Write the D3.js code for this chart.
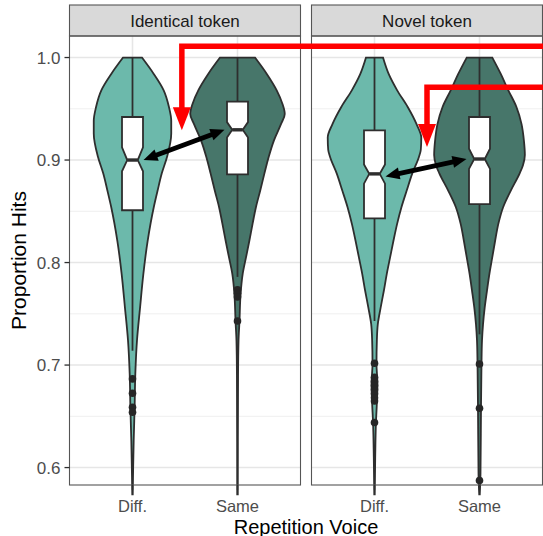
<!DOCTYPE html>
<html>
<head>
<meta charset="utf-8">
<script src="https://cdn.jsdelivr.net/npm/d3@7"></script>
<style>
body { margin: 0; background: #fff; }
text { font-family: "Liberation Sans", Arial, sans-serif; }
</style>
</head>
<body>
<script>
var facets = ["Identical token", "Novel token"],
	voices = ["Diff.", "Same"],
	yTicks = [0.6, 0.7, 0.8, 0.9, 1.0],
	yMinor = [0.65, 0.75, 0.85, 0.95];

// violin outlines: [proportion, density]
var violinIdentDiff = [[1.000, 2.0], [0.984, 4.5], [0.968, 6.6], [0.952, 7.7], [0.938, 8.2], [0.926, 8.2],
	[0.903, 7.3], [0.887, 6.2], [0.870, 5.3], [0.854, 4.5], [0.821, 3.2], [0.789, 2.3], [0.756, 1.6],
	[0.724, 0.95], [0.692, 0.6], [0.659, 0.45], [0.626, 0.25], [0.600, 0.14], [0.574, 0.05]];
var violinIdentSame = [[1.000, 3.7], [0.984, 6.2], [0.968, 8.3], [0.955, 9.5], [0.945, 10.0], [0.935, 9.2],
	[0.919, 7.7], [0.903, 6.6], [0.887, 5.7], [0.870, 4.8], [0.854, 3.9], [0.838, 3.2], [0.821, 2.5],
	[0.805, 1.8], [0.789, 1.1], [0.769, 0.65], [0.743, 0.42], [0.724, 0.22], [0.690, 0.12], [0.574, 0.06]];
var violinNovelDiff = [[1.000, 1.8], [0.984, 3.0], [0.968, 4.8], [0.952, 7.0], [0.935, 8.9], [0.922, 9.9],
	[0.910, 9.8], [0.903, 9.4], [0.887, 8.0], [0.870, 6.8], [0.854, 5.7], [0.838, 4.8], [0.821, 4.0],
	[0.805, 3.3], [0.789, 2.6], [0.773, 2.0], [0.756, 1.3], [0.740, 0.7], [0.724, 0.5], [0.701, 0.42],
	[0.682, 0.62], [0.665, 0.52], [0.643, 0.3], [0.610, 0.15], [0.574, 0.05]];
var violinNovelSame = [[1.000, 2.7], [0.984, 4.5], [0.968, 6.1], [0.952, 7.8], [0.935, 8.9], [0.919, 9.4],
	[0.905, 9.6], [0.895, 9.2], [0.887, 8.5], [0.870, 6.6], [0.854, 5.0], [0.838, 4.0], [0.821, 3.3],
	[0.805, 2.7], [0.789, 2.1], [0.773, 1.6], [0.756, 1.1], [0.740, 0.75], [0.724, 0.53], [0.701, 0.42],
	[0.659, 0.32], [0.594, 0.21], [0.574, 0.06]];

// box stats: [lower whisker, Q1, notch low, median, notch high, Q3, upper whisker]
var boxIdentDiff = [0.714, 0.851, 0.889, 0.900, 0.9125, 0.942, 1.0],
	boxIdentSame = [0.786, 0.886, 0.922, 0.9295, 0.937, 0.957, 1.0],
	boxNovelDiff = [0.743, 0.843, 0.877, 0.8865, 0.8956, 0.929, 1.0],
	boxNovelSame = [0.730, 0.857, 0.8914, 0.901, 0.911, 0.942, 1.0];

var outIdentDiff = [0.6865, 0.6725, 0.6588, 0.654],
	outIdentSame = [0.7735, 0.770, 0.7665, 0.743],
	outNovelDiff = [0.7018, 0.688, 0.684, 0.680, 0.676, 0.672, 0.668, 0.665, 0.644],
	outNovelSame = [0.701, 0.6578, 0.5873];

// red annotation arrows: facet, x (in category units), y of the bar, y of the tip
var redArrows = [[0, 1.47, 1.011, 0.929], [1, 1.50, 0.971, 0.9126]];

var groups = [
	{ facet: 0, voice: "Diff.", violin: violinIdentDiff, box: boxIdentDiff, out: outIdentDiff },
	{ facet: 0, voice: "Same",  violin: violinIdentSame, box: boxIdentSame, out: outIdentSame },
	{ facet: 1, voice: "Diff.", violin: violinNovelDiff, box: boxNovelDiff, out: outNovelDiff },
	{ facet: 1, voice: "Same",  violin: violinNovelSame, box: boxNovelSame, out: outNovelSame }
];

var fills = { "Diff.": "#6cb9ab", "Same": "#47766a" };

// layout
var W = 543, H = 536,
	panelTop = 36, panelBot = 485,
	stripTop = 5,
	panelX = [[69.5, 300.5], [311.5, 542.5]];

var svg = d3.select("body").append("svg")
	.attr("width", W)
	.attr("height", H);

var y = d3.scaleLinear().domain([0.583, 1.021]).range([panelBot, panelTop]);

var xs = panelX.map(function(r){
	return d3.scalePoint().domain(voices).range(r).padding(0.6);
});
var xc = panelX.map(function(r){
	return d3.scaleLinear().domain([0.4, 2.6]).range(r);
});
var step = xs[0].step();

var maxDens = d3.max(groups, function(g){ return d3.max(g.violin, function(d){ return d[1]; }); });
var w = d3.scaleLinear().domain([0, maxDens]).range([0, 0.45 * step]);

var dark = "#2e2e2e";

// panels, grid, strips
facets.forEach(function(f, i){
	var x0 = panelX[i][0], x1 = panelX[i][1];
	var p = svg.append("g");
	p.append("rect").attr("x", x0).attr("y", panelTop).attr("width", x1 - x0).attr("height", panelBot - panelTop).attr("fill", "#fff");
	p.selectAll(".minor").data(yMinor).enter().append("line")
		.attr("x1", x0).attr("x2", x1)
		.attr("y1", function(d){ return y(d); }).attr("y2", function(d){ return y(d); })
		.attr("stroke", "#ebebeb").attr("stroke-width", 0.8);
	p.selectAll(".major").data(yTicks).enter().append("line")
		.attr("x1", x0).attr("x2", x1)
		.attr("y1", function(d){ return y(d); }).attr("y2", function(d){ return y(d); })
		.attr("stroke", "#e6e6e6").attr("stroke-width", 1.6);
	p.selectAll(".vmajor").data(voices).enter().append("line")
		.attr("x1", function(d){ return xs[i](d); }).attr("x2", function(d){ return xs[i](d); })
		.attr("y1", panelTop).attr("y2", panelBot)
		.attr("stroke", "#e6e6e6").attr("stroke-width", 1.6);

	svg.append("rect").attr("x", x0).attr("y", stripTop).attr("width", x1 - x0).attr("height", panelTop - stripTop)
		.attr("fill", "#d9d9d9").attr("stroke", "#555").attr("stroke-width", 1.1);
	svg.append("text").attr("x", (x0 + x1) / 2).attr("y", (stripTop + panelTop) / 2 + 6)
		.attr("text-anchor", "middle").attr("font-size", 17).attr("fill", "#1a1a1a").text(f);
});

// violins
var area = d3.area()
	.curve(d3.curveMonotoneY)
	.y(function(d){ return y(d[0]); });

groups.forEach(function(g){
	var cx = xs[g.facet](g.voice);
	area.x0(function(d){ return cx - w(d[1]); }).x1(function(d){ return cx + w(d[1]); });
	svg.append("path").datum(g.violin)
		.attr("d", area)
		.attr("fill", fills[g.voice])
		.attr("stroke", dark).attr("stroke-width", 1.8);
});

// notched boxplots
var boxHalf = 0.1 * step, notchHalf = 0.5 * boxHalf;
groups.forEach(function(g){
	var cx = xs[g.facet](g.voice), b = g.box;
	svg.append("line").attr("x1", cx).attr("x2", cx).attr("y1", y(b[6])).attr("y2", y(b[5]))
		.attr("stroke", dark).attr("stroke-width", 1.8);
	svg.append("line").attr("x1", cx).attr("x2", cx).attr("y1", y(b[1])).attr("y2", y(b[0]))
		.attr("stroke", dark).attr("stroke-width", 1.8);
	var pts = [
		[cx - boxHalf, y(b[5])], [cx - boxHalf, y(b[4])], [cx - boxHalf + notchHalf, y(b[3])],
		[cx - boxHalf, y(b[2])], [cx - boxHalf, y(b[1])], [cx + boxHalf, y(b[1])],
		[cx + boxHalf, y(b[2])], [cx + boxHalf - notchHalf, y(b[3])], [cx + boxHalf, y(b[4])],
		[cx + boxHalf, y(b[5])]
	];
	svg.append("path").attr("d", "M" + pts.join("L") + "Z")
		.attr("fill", "#fff").attr("stroke", dark).attr("stroke-width", 1.8);
	svg.append("line").attr("x1", cx - boxHalf + notchHalf).attr("x2", cx + boxHalf - notchHalf)
		.attr("y1", y(b[3])).attr("y2", y(b[3]))
		.attr("stroke", dark).attr("stroke-width", 3.4);
	svg.selectAll(null).data(g.out).enter().append("circle")
		.attr("cx", cx).attr("cy", function(d){ return y(d); })
		.attr("r", 3.8).attr("fill", "#262626");
});

// panel borders
panelX.forEach(function(r){
	svg.append("rect").attr("x", r[0]).attr("y", panelTop).attr("width", r[1] - r[0]).attr("height", panelBot - panelTop)
		.attr("fill", "none").attr("stroke", "#555").attr("stroke-width", 1.1);
});

// y axis (left panel only)
var ya = svg.append("g");
ya.selectAll("line").data(yTicks).enter().append("line")
	.attr("x1", panelX[0][0] - 5).attr("x2", panelX[0][0])
	.attr("y1", function(d){ return y(d); }).attr("y2", function(d){ return y(d); })
	.attr("stroke", dark).attr("stroke-width", 1.3);
ya.selectAll("text").data(yTicks).enter().append("text")
	.attr("x", panelX[0][0] - 9).attr("y", function(d){ return y(d) + 6; })
	.attr("text-anchor", "end").attr("font-size", 17).attr("fill", "#4d4d4d")
	.text(function(d){ return d3.format(".1f")(d); });

// x axes
xs.forEach(function(sc){
	var xa = svg.append("g");
	xa.selectAll("line").data(voices).enter().append("line")
		.attr("x1", function(d){ return sc(d); }).attr("x2", function(d){ return sc(d); })
		.attr("y1", panelBot).attr("y2", panelBot + 5)
		.attr("stroke", dark).attr("stroke-width", 1.3);
	xa.selectAll("text").data(voices).enter().append("text")
		.attr("x", function(d){ return sc(d); }).attr("y", panelBot + 26.5)
		.attr("text-anchor", "middle").attr("font-size", 16.5).attr("fill", "#4d4d4d")
		.text(function(d){ return d; });
});

svg.append("text").attr("x", (panelX[0][0] + panelX[1][1]) / 2).attr("y", 533.5)
	.attr("text-anchor", "middle").attr("font-size", 20).attr("fill", "#000").text("Repetition Voice");
svg.append("text").attr("transform", "translate(26," + ((panelTop + panelBot) / 2) + ") rotate(-90)")
	.attr("text-anchor", "middle").attr("font-size", 21).attr("fill", "#000").text("Proportion Hits");

// black double arrows between medians
function headPath(tx, ty, ang, len, half){
	var bx = tx - len * Math.cos(ang), by = ty - len * Math.sin(ang),
		nx = -Math.sin(ang) * half, ny = Math.cos(ang) * half;
	return "M" + tx + "," + ty + "L" + (bx + nx) + "," + (by + ny) + "L" + (bx - nx) + "," + (by - ny) + "Z";
}
[0, 1].forEach(function(f){
	var a = groups[f * 2], b = groups[f * 2 + 1];
	var x1 = xs[f]("Diff.") + 11, y1 = y(a.box[3]) + (f ? 2.5 : 0),
		x2 = xs[f]("Same") - 13, y2 = y(b.box[3]);
	var ang = Math.atan2(y2 - y1, x2 - x1), len = 14;
	svg.append("line")
		.attr("x1", x1 + len * 0.8 * Math.cos(ang)).attr("y1", y1 + len * 0.8 * Math.sin(ang))
		.attr("x2", x2 - len * 0.8 * Math.cos(ang)).attr("y2", y2 - len * 0.8 * Math.sin(ang))
		.attr("stroke", "#000").attr("stroke-width", 4.8);
	svg.append("path").attr("d", headPath(x2, y2, ang, len, 6)).attr("fill", "#000");
	svg.append("path").attr("d", headPath(x1, y1, ang + Math.PI, len, 6)).attr("fill", "#000");
});

// red elbow arrows
redArrows.forEach(function(r){
	var ax = xc[r[0]](r[1]), ay = y(r[2]), tip = y(r[3]), headLen = 23;
	svg.append("path")
		.attr("d", "M" + W + "," + ay + "H" + ax + "V" + (tip - headLen + 2))
		.attr("fill", "none").attr("stroke", "#ff0000").attr("stroke-width", 5.5)
		.attr("stroke-linejoin", "miter").attr("stroke-linecap", "butt");
	svg.append("path").attr("d", headPath(ax, tip, Math.PI / 2, headLen, 9)).attr("fill", "#ff0000");
});
</script>
</body>
</html>
